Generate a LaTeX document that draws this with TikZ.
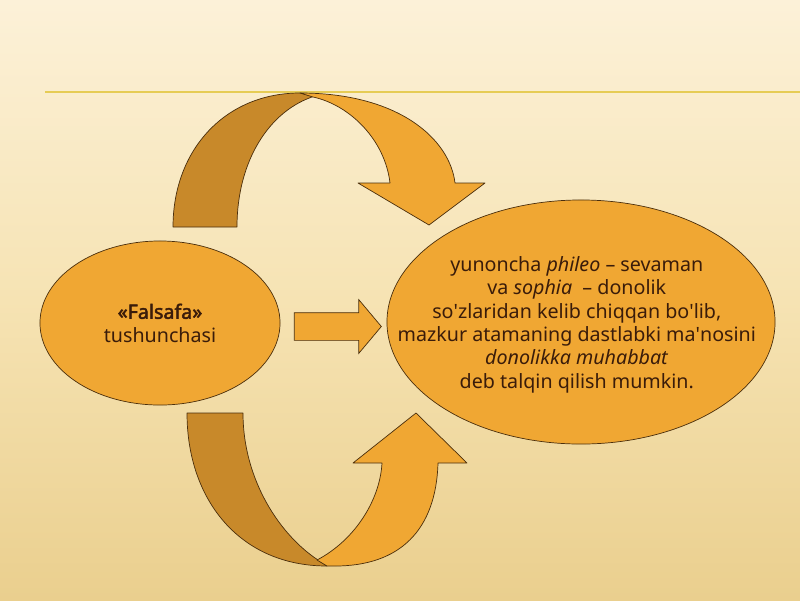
\documentclass[tikz,border=0pt]{standalone}
\usepackage{fontspec}
\setmainfont{Noto Sans}
\newfontfamily\heavy{Noto Sans}[FakeBold=2.2]
\usetikzlibrary{shapes.geometric,shapes.arrows}

\definecolor{bgtop}{HTML}{FCF1D8}
\definecolor{bgmid}{HTML}{F6E3B3}
\definecolor{bgbot}{HTML}{EACF8E}
\definecolor{rule}{HTML}{E6CC55}
\definecolor{bandlight}{HTML}{F0A733}
\definecolor{banddark}{HTML}{C8892A}
\definecolor{edge}{HTML}{4A2E0C}
\definecolor{ink}{HTML}{3A1C0A}

\newcommand\apo{\textquotesingle}

\tikzset{
  bubble/.style={ellipse,draw=edge,line width=0.5pt,fill=bandlight,inner sep=0pt},
  words/.style={align=center,text=ink,inner sep=0pt,font=\fontsize{14}{16.6}\selectfont},
  band/.style={draw=edge,line width=0.5pt,line join=round}
}

\begin{document}
\begin{tikzpicture}[x=0.025cm,y=-0.025cm]
\useasboundingbox (0,0) rectangle (800,600);
\shade[top color=bgtop,bottom color=bgmid] (0,0) rectangle (800,300);
\shade[top color=bgmid,bottom color=bgbot] (0,300) rectangle (800,600);
\draw[rule,line width=1.2pt] (45,92) -- (800,92);

\node[bubble,minimum width=6cm,minimum height=4.1cm] (falsafa) at (160,323) {};
\node[words] at (falsafa.center) {{\heavy «Falsafa»}\\tushunchasi};
\node[bubble,minimum width=9.7cm,minimum height=6.1cm] (mano) at (581,322) {};
\node[words] at ([xshift=-3pt,yshift=-2pt]mano.center)
  {yunoncha \textit{phileo} – sevaman\\
   va \textit{sophia}~ – donolik\\
   so\apo zlaridan kelib chiqqan bo\apo lib,\\
   mazkur atamaning dastlabki ma\apo nosini\\
   \textit{donolikka muhabbat}\\
   deb talqin qilish mumkin.};
\node[single arrow,draw=edge,line width=0.5pt,fill=bandlight,inner xsep=0pt,
  inner ysep=0.3375cm,minimum height=2.175cm,minimum width=1.325cm,
  single arrow head extend=0.325cm,single arrow tip angle=100] (pass) at (332,326.5) {};

% top curved arrow
\fill[band,fill=banddark] (173,227) .. controls (173,150) and (225,93) .. (300,93)
  -- (315,96) .. controls (270,110) and (237,160) .. (237,227) -- cycle;
\fill[band,fill=bandlight] (300,93) .. controls (400,93) and (450,140) .. (455,183)
  -- (485,183) -- (429,225) -- (358,183) -- (390,183)
  .. controls (385,140) and (350,105) .. (313,97) -- cycle;

% bottom curved arrow
\fill[band,fill=banddark] (187,413) -- (243,413)
  .. controls (243,480) and (280,535) .. (318,560)
  -- (327,566) .. controls (240,566) and (187,500) .. (187,413) -- cycle;
\fill[band,fill=bandlight] (317,560) .. controls (355,540) and (380,500) .. (382,463)
  -- (353,463) -- (416,413) -- (467,463) -- (438,463)
  .. controls (436,530) and (400,566) .. (335,566) -- (327,566) -- cycle;
\end{tikzpicture}
\end{document}
